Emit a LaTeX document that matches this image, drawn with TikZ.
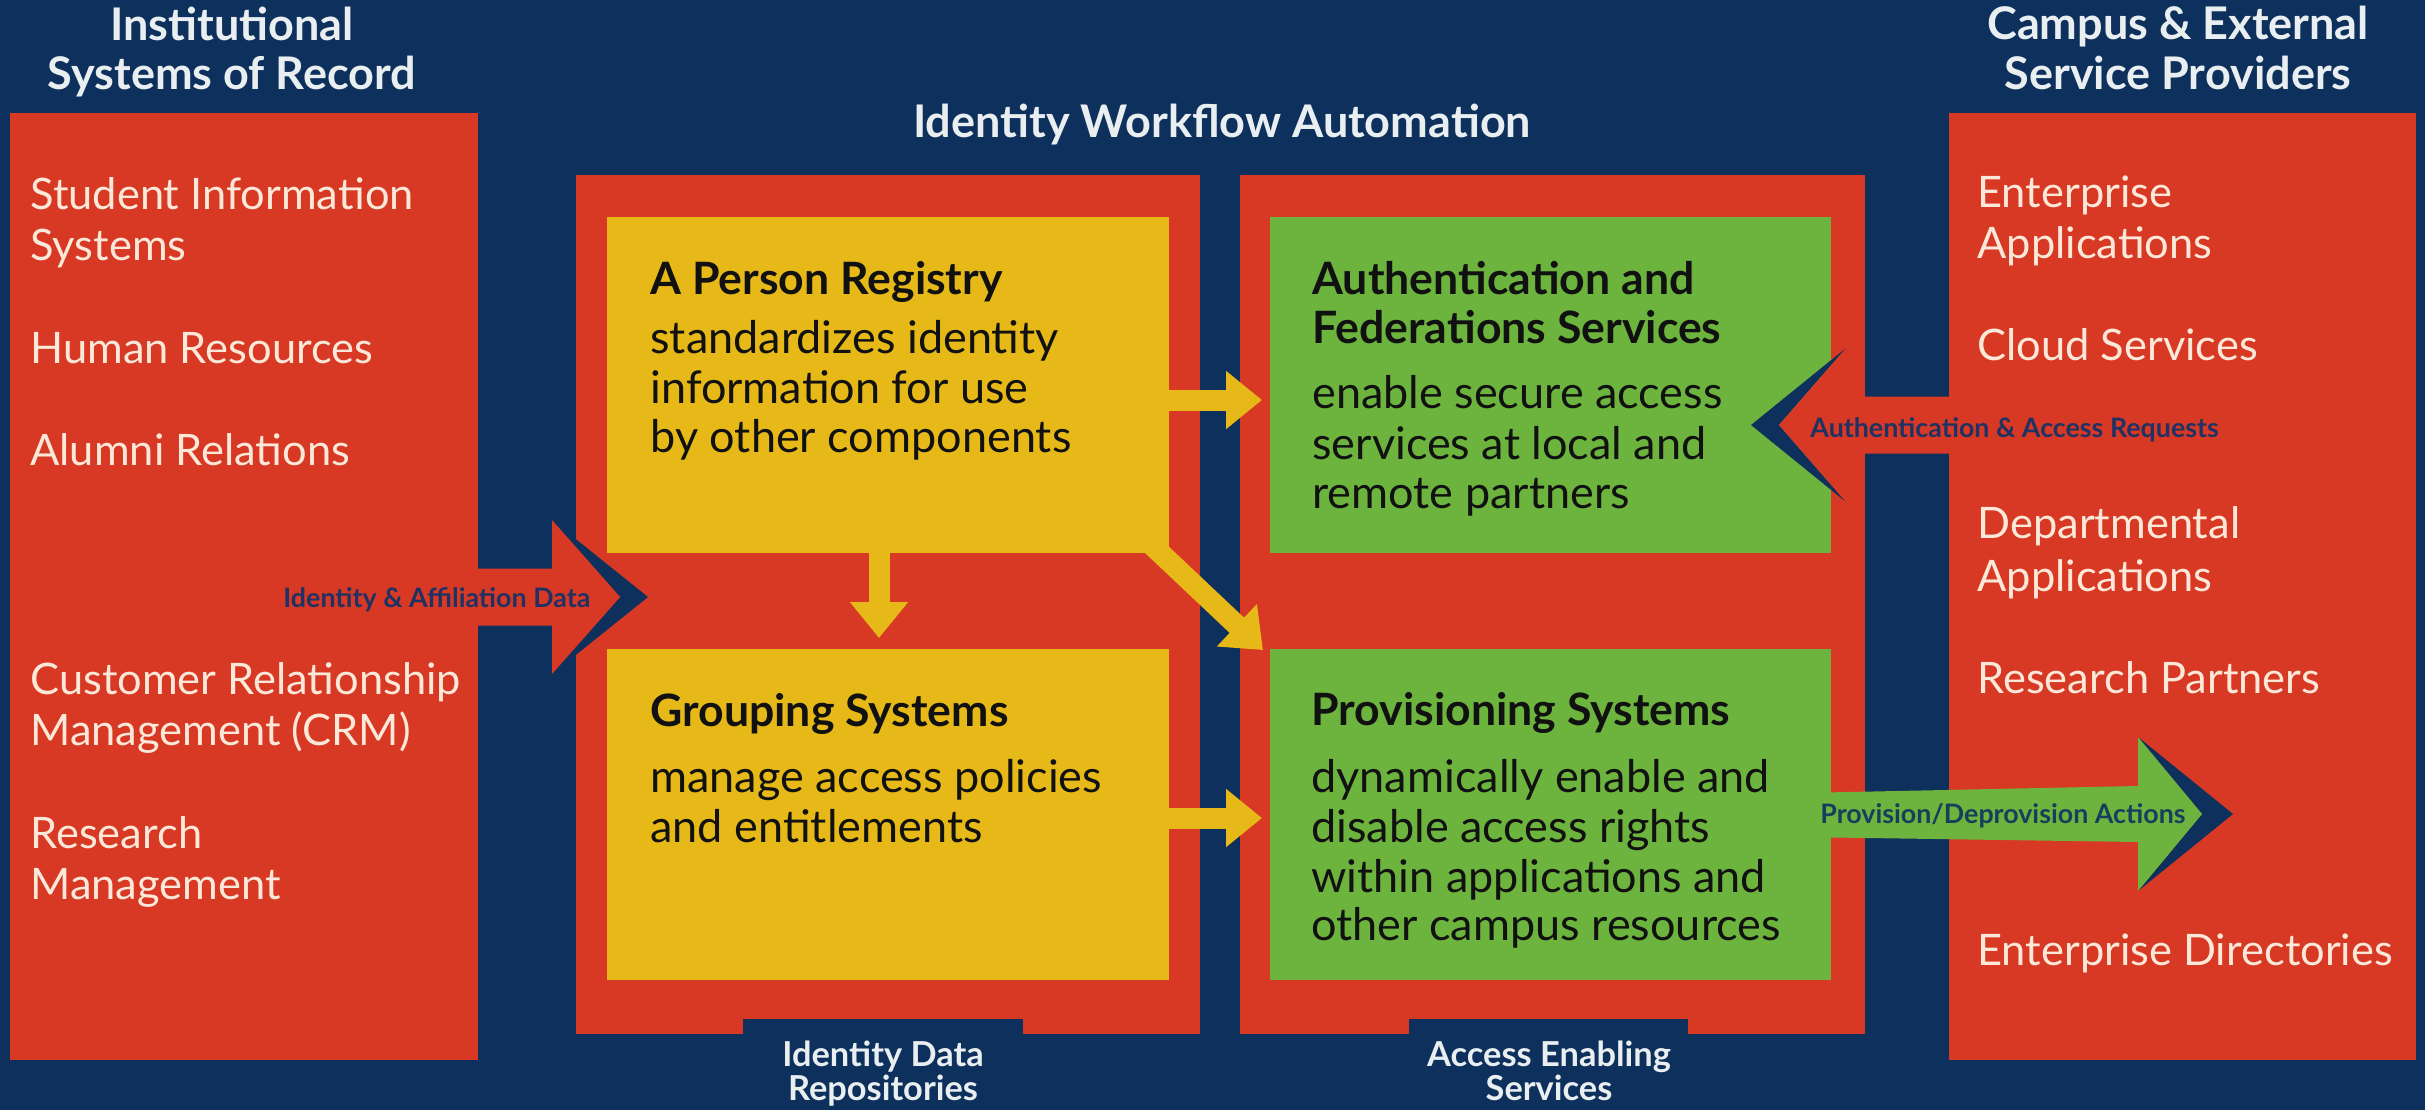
\documentclass[tikz,border=0pt]{standalone}
\usepackage{fontspec}
\setmainfont{Lato}
\usetikzlibrary{arrows.meta,calc}
\definecolor{navy}{HTML}{0E305C}
\definecolor{rd}{HTML}{D83924}
\definecolor{ylw}{HTML}{E6B918}
\definecolor{grn}{HTML}{6DB43E}
\definecolor{cream}{HTML}{FBE8D8}
\definecolor{ttl}{HTML}{E9EEF0}
\definecolor{lbl}{HTML}{1F3263}
\definecolor{lbltwo}{HTML}{173F5C}
\definecolor{ink}{HTML}{111111}
\begin{document}
\begin{tikzpicture}[x=0.5pt,y=-0.5pt,
  panel/.style={fill=#1,inner sep=0pt,outer sep=0pt,anchor=north west},
  lst/.style={anchor=base west,inner sep=0pt,text=cream,font=\fontsize{21.7}{25}\selectfont},
  btx/.style={anchor=base west,inner sep=0pt,text=ink,font=\fontsize{22.5}{26}\selectfont},
  bttl/.style={anchor=base west,inner sep=0pt,text=ink,font=\bfseries\fontsize{22.3}{26}\selectfont},
  side/.style={anchor=base,inner sep=0pt,text=ttl,font=\bfseries\fontsize{22.5}{26}\selectfont},
  bot/.style={anchor=base,inner sep=0pt,text=ttl,font=\bfseries\fontsize{17.2}{20}\selectfont},
  albl/.style={anchor=base west,inner sep=0pt,font=\bfseries\fontsize{13.4}{16}\selectfont},
  yarr/.style={draw=ylw,line width=10.5pt,-{Triangle[length=18pt,width=28pt]}}]
\useasboundingbox (0,0) rectangle (2425,1110);
\fill[navy] (0,0) rectangle (2425,1110);

% outer panels
\node[panel=rd,minimum width=234pt,minimum height=473.5pt] (lb) at (10,113) {};
\node[panel=rd,minimum width=312pt,minimum height=429.5pt] (ml) at (576,175) {};
\node[panel=rd,minimum width=312.5pt,minimum height=429.5pt] (mr) at (1240,175) {};
\node[panel=rd,minimum width=233.5pt,minimum height=473.5pt] (rb) at (1949,113) {};
% notches
\fill[navy] (743,1019) rectangle (1023,1040);
\fill[navy] (1409,1019) rectangle (1688,1040);

% inner boxes
\node[panel=ylw,minimum width=281pt,minimum height=168pt] (pr) at (607,217) {};
\node[panel=ylw,minimum width=281pt,minimum height=165.5pt] (gs) at (607,649) {};
\node[panel=grn,minimum width=280.5pt,minimum height=168pt] (au) at (1270,217) {};
\node[panel=grn,minimum width=280.5pt,minimum height=165.5pt] (pv) at (1270,649) {};

% yellow connectors
\coordinate (a1) at (1262,400);
\coordinate (a2) at (879,638);
\coordinate (a3s) at (1136,530);
\coordinate (a3) at (1263,650);
\coordinate (a4) at (1262,818);
\draw[yarr] (pr.east |- a1) -- (a1);
\draw[yarr] (pr.south -| a2) -- (a2);
\draw[yarr] (a3s) -- (a3);
\draw[yarr] (gs.east |- a4) -- (a4);

% Identity & Affiliation Data arrow
\coordinate (iaS) at (400,597);
\coordinate (iaT) at (620,597);
\fill[navy] ($(iaT)+(-68,-77)$) -- ($(iaT)+(28,0)$) -- ($(iaT)+(-68,77)$) -- (iaT) -- cycle;
\fill[rd] ($(iaS)+(0,-28.5)$) -- ($(iaT)+(-68,-28.5)$) -- ($(iaT)+(-68,-77)$) -- (iaT)
  -- ($(iaT)+(-68,77)$) -- ($(iaT)+(-68,28.5)$) -- ($(iaS)+(0,28.5)$) -- cycle;

% Authentication & Access Requests arrow
\coordinate (aaS) at (2150,425);
\coordinate (aaT) at (1779,425);
\fill[navy] ($(aaT)+(67,-77)$) -- ($(aaT)+(-28,0)$) -- ($(aaT)+(67,77)$) -- (aaT) -- cycle;
\fill[rd] ($(aaS)+(0,-28.5)$) -- ($(aaT)+(67,-28.5)$) -- ($(aaT)+(67,-77)$) -- (aaT)
  -- ($(aaT)+(67,77)$) -- ($(aaT)+(67,28.5)$) -- ($(aaS)+(0,28.5)$) -- cycle;

% Provision/Deprovision Actions arrow
\coordinate (paS) at (1800,815);
\coordinate (paT) at (2202,814);
\fill[navy] ($(paT)+(-64,-77)$) -- ($(paT)+(31,0)$) -- ($(paT)+(-64,77)$) -- (paT) -- cycle;
\fill[grn] ($(paS)+(0,-22)$) -- ($(paT)+(-64,-28)$) -- ($(paT)+(-64,-77)$) -- (paT)
  -- ($(paT)+(-64,77)$) -- ($(paT)+(-64,28)$) -- ($(paS)+(0,22)$) -- cycle;

% titles
\node[side] (t1a) at (232,40) {Institutional};
\node[side] (t1b) at (232,89) {Systems of Record};
\node[side] (t2a) at (2178,39) {Campus \& External};
\node[side] (t2b) at (2178,89) {Service Providers};
\node[side] (t3) at (1222,137) {Identity Workflow Automation};

% left list
\node[lst] (l1a) at (30,209) {Student Information};
\node[lst] (l1b) at (30,260) {Systems};
\node[lst] (l2) at (30,363) {Human Resources};
\node[lst] (l3) at (30,465) {Alumni Relations};
\node[lst] (l4a) at (30,694) {Customer Relationship};
\node[lst] (l4b) at (30,745) {Management (CRM)};
\node[lst] (l5a) at (30,848) {Research};
\node[lst] (l5b) at (30,899) {Management};

% right list
\node[lst] (r1a) at (1977,207) {Enterprise};
\node[lst] (r1b) at (1977,258) {Applications};
\node[lst] (r2) at (1977,360) {Cloud Services};
\node[lst] (r3a) at (1977,538) {Departmental};
\node[lst] (r3b) at (1977,591) {Applications};
\node[lst] (r4) at (1977,693) {Research Partners};
\node[lst] (r5) at (1977,965) {Enterprise Directories};

% person registry
\node[bttl] (prt) at (650,294) {A Person Registry};
\node[btx] (prb1) at (650,353) {standardizes identity};
\node[btx] (prb2) at (650,403) {information for use};
\node[btx] (prb3) at (650,452) {by other components};

% authentication
\node[bttl] (aut1) at (1312,294) {Authentication and};
\node[bttl] (aut2) at (1312,343) {Federations Services};
\node[btx] (aub1) at (1312,408) {enable secure access};
\node[btx] (aub2) at (1312,459) {services at local and};
\node[btx] (aub3) at (1312,508) {remote partners};

% grouping
\node[bttl] (gst) at (650,726) {Grouping Systems};
\node[btx] (gsb1) at (650,792) {manage access policies};
\node[btx] (gsb2) at (650,842) {and entitlements};

% provisioning
\node[bttl] (pvt) at (1311,725) {Provisioning Systems};
\node[btx] (pvb1) at (1311,792) {dynamically enable and};
\node[btx] (pvb2) at (1311,842) {disable access rights};
\node[btx] (pvb3) at (1311,892) {within applications and};
\node[btx] (pvb4) at (1311,940) {other campus resources};

% bottom labels
\node[bot] (b1a) at (883,1066) {Identity Data};
\node[bot] (b1b) at (883,1100) {Repositories};
\node[bot] (b2a) at (1549,1066) {Access Enabling};
\node[bot] (b2b) at (1549,1100) {Services};

% arrow labels
\node[albl,text=lbl] (al1) at (283,607) {Identity \& Affiliation Data};
\node[albl,text=lbl] (al2) at (1810,437) {Authentication \& Access Requests};
\node[albl,text=lbltwo] (al3) at (1820,823) {Provision/Deprovision Actions};
\end{tikzpicture}
\end{document}
